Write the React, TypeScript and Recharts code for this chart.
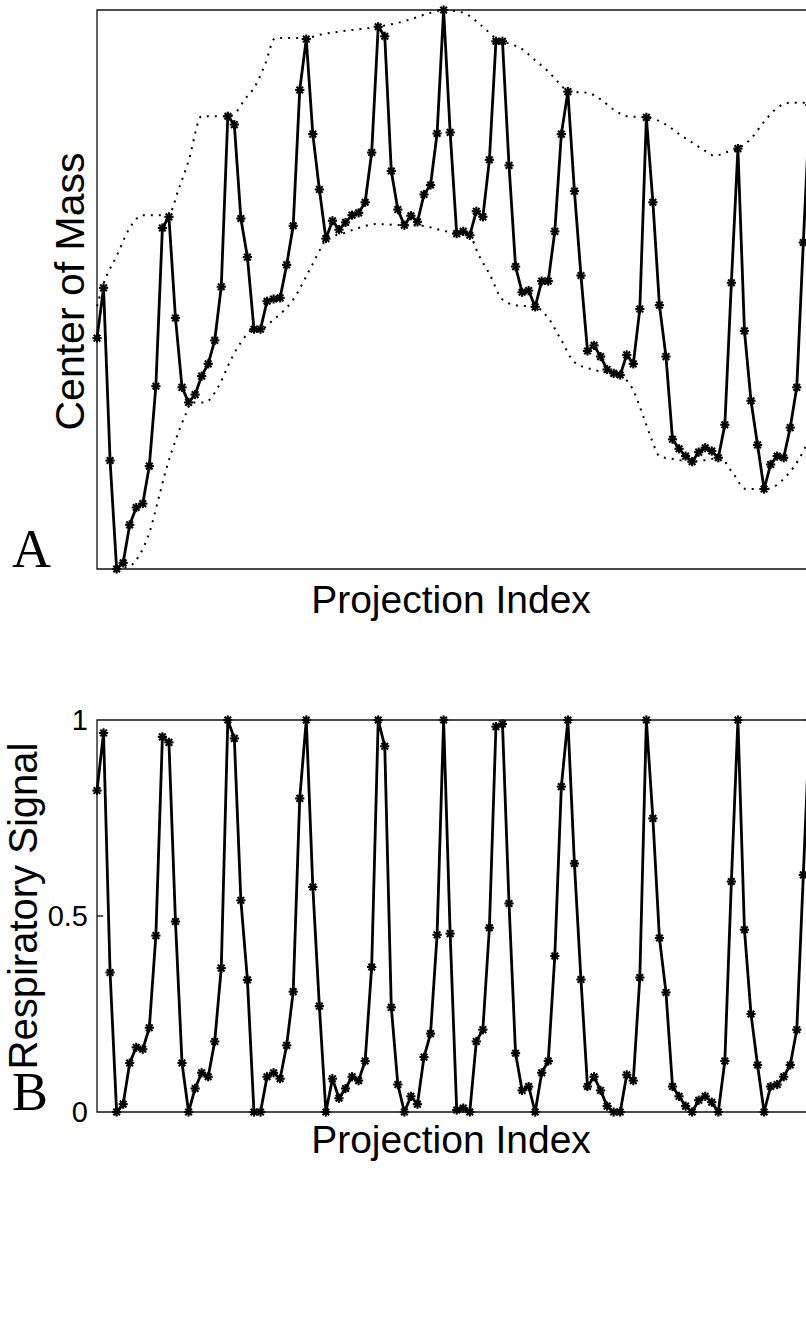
import { LineChart, Line, XAxis, YAxis, ReferenceArea, ReferenceLine } from 'recharts';

// projection index 0..109 (one sample every ~6.5px in the figure)
const comValues = [
  41.3, 50.3, 19.4, 0, 1.1, 7.9, 11, 11.7, 18.4, 32.7,
  61, 63, 44.9, 32.5, 29.8, 31.2, 34.5, 36.7, 40.9, 50.5,
  81, 79.5, 62.7, 55.8, 42.9, 42.9, 47.9, 48.3, 48.5, 54.4,
  61.4, 85.7, 94.8, 77.8, 67.9, 59.1, 62.3, 60.7, 62, 63.3,
  63.7, 65.6, 74.5, 97, 95.3, 71.2, 64.3, 61.5, 63.2, 62.1,
  67, 68.7, 77.9, 100, 78.1, 60, 60.4, 59.7, 64, 63,
  73.2, 94.4, 94.4, 72.2, 54.1, 49.5, 49.8, 46.9, 51.5, 51.5,
  60.4, 77.8, 85.4, 67.6, 52.5, 39, 40, 38, 35.7, 35,
  34.7, 38.3, 36.7, 46.5, 80.8, 65.6, 47.2, 38, 23.2, 21.5,
  20.2, 19.2, 20.9, 21.7, 21.1, 19.9, 25.8, 51.2, 75.2, 42.6,
  30.1, 22.2, 14.3, 18.7, 20.2, 19.9, 25.3, 32.5, 58.4, 83,
];

const respValues = [
  0.82, 0.967, 0.356, 0, 0.02, 0.125, 0.165, 0.16, 0.215, 0.45,
  0.957, 0.943, 0.486, 0.125, 0, 0.06, 0.1, 0.09, 0.18, 0.367,
  1, 0.953, 0.54, 0.337, 0, 0, 0.09, 0.1, 0.085, 0.17,
  0.307, 0.8, 1, 0.574, 0.27, 0, 0.085, 0.035, 0.06, 0.09,
  0.08, 0.13, 0.37, 1, 0.933, 0.267, 0.07, 0, 0.04, 0.02,
  0.14, 0.2, 0.452, 1, 0.455, 0.005, 0.01, 0, 0.18, 0.21,
  0.47, 0.983, 0.99, 0.532, 0.15, 0.055, 0.065, 0, 0.1, 0.13,
  0.398, 0.83, 1, 0.634, 0.338, 0.065, 0.09, 0.055, 0.015, 0,
  0, 0.095, 0.08, 0.343, 1, 0.749, 0.444, 0.305, 0.065, 0.04,
  0.015, 0, 0.03, 0.04, 0.025, 0, 0.13, 0.588, 1, 0.465,
  0.25, 0.12, 0, 0.065, 0.07, 0.09, 0.12, 0.21, 0.605, 1,
];

// dotted envelopes (sampled along the projection index)
const upperIdx = [
  0, 1, 3, 5, 7, 10.9, 12.5, 14, 16, 20,
  21.1, 22.6, 24.2, 25.7, 27.2, 28.3, 32, 34.2, 37.5, 43,
  47, 51, 53, 56, 59, 61.5, 63, 65, 67, 69,
  71, 72, 75, 77, 79, 81, 84, 87, 89, 91,
  93, 94.5, 96, 98, 100, 102, 104, 106, 110,
];
const upperValues = [
  47, 51, 56, 61, 63.3, 63.3, 68, 73, 81, 81,
  81.5, 84, 86.4, 90.3, 94.9, 95, 95, 95.6, 96.2, 97,
  98, 99.5, 100, 99.5, 97, 94.5, 94, 93, 91, 89,
  86.5, 85.4, 85.2, 84, 82.2, 81, 80.8, 79.5, 77.8, 76.3,
  74.8, 73.9, 74.5, 75.2, 77, 80, 82.5, 83.4, 83.4,
];
const lowerIdx = [
  3, 5, 6.5, 8, 9.5, 10.5, 12, 13.5, 14.5, 16.5,
  18.5, 20.5, 22, 24, 25, 27, 30, 32.5, 34.5, 35,
  37.5, 40, 42.5, 47, 49.7, 52.3, 55, 56.9, 58.4, 60,
  62, 64, 67, 69, 71, 73, 75.7, 79.8, 81.8, 83.6,
  84.8, 86, 88.5, 91, 93.6, 95.2, 97.2, 99.2, 102.3, 105.4,
  107.3, 108.5, 110,
];
const lowerValues = [
  0, 0.5, 2.5, 6.5, 13, 17.5, 23, 27.5, 29.8, 29.8,
  32.5, 37.5, 40.5, 42.9, 42.9, 44.6, 48.2, 53.5, 58, 59.1,
  60, 61, 61.7, 61.5, 61.4, 60.7, 60, 59.7, 56.1, 52.8,
  48.2, 47.2, 46.9, 44.9, 40.9, 37, 35.7, 34.7, 32.4, 27.1,
  23.2, 20.2, 19.6, 19.2, 19.6, 19.9, 17.2, 14.3, 14.3, 16.6,
  19.6, 22.2, 25,
];

const comData = comValues.map((v, i) => ({ i, v }));
const respData = respValues.map((v, i) => ({ i, v }));
const upperData = upperIdx.map((i, k) => ({ i, v: upperValues[k] }));
const lowerData = lowerIdx.map((i, k) => ({ i, v: lowerValues[k] }));

const SANS = '"Liberation Sans", Arial, Helvetica, sans-serif';
const SERIF = '"Liberation Serif", "Times New Roman", serif';
const X_MAX = 110;
const CHART_W = 830;
const MARGIN_RIGHT = CHART_W - 97 - X_MAX * 6.54;

// matlab-style '*' marker
const Star = (props: any) => {
  const { cx, cy, index } = props;
  if (cx == null || cy == null) return <g key={`s-${index}`} />;
  const r = 4.6;
  const d = r * 0.72;
  return (
    <g key={`s-${index}`} stroke="#000" strokeWidth={2.1}>
      <line x1={cx - r} y1={cy} x2={cx + r} y2={cy} />
      <line x1={cx} y1={cy - r} x2={cx} y2={cy + r} />
      <line x1={cx - d} y1={cy - d} x2={cx + d} y2={cy + d} />
      <line x1={cx - d} y1={cy + d} x2={cx + d} y2={cy - d} />
    </g>
  );
};

const xTitle = (dy: number) => (props: any) => {
  const { viewBox } = props;
  return (
    <text
      x={451}
      y={viewBox.y + dy}
      textAnchor="middle"
      fontFamily={SANS}
      fontSize={39}
      fill="#000"
    >
      Projection Index
    </text>
  );
};

const yTitle = (title: string, tx: number, size: number, shift: number, letter: string) => (props: any) => {
  const { viewBox } = props;
  const cy = viewBox.y + viewBox.height / 2 + shift;
  return (
    <g>
      <text
        x={tx}
        y={cy}
        transform={`rotate(-90, ${tx}, ${cy})`}
        textAnchor="middle"
        fontFamily={SANS}
        fontSize={size}
        fill="#000"
      >
        {title}
      </text>
      <text x={12} y={viewBox.y + viewBox.height - 2} fontFamily={SERIF} fontSize={54} fill="#000">
        {letter}
      </text>
    </g>
  );
};

export default function App() {
  return (
    <div
      style={{
        position: 'absolute',
        left: 0,
        top: 0,
        width: 806,
        height: 1332,
        overflow: 'hidden',
        background: '#fff',
      }}
    >
      <div style={{ position: 'absolute', left: 0, top: 0 }}>
        <LineChart width={CHART_W} height={640} margin={{ top: 10, right: MARGIN_RIGHT, left: 0, bottom: 0 }}>
          <XAxis
            type="number"
            dataKey="i"
            domain={[0, X_MAX]}
            height={71}
            tick={false}
            axisLine={false}
            tickLine={false}
            label={xTitle(44)}
          />
          <YAxis
            type="number"
            domain={[0, 100]}
            width={97}
            tick={false}
            axisLine={false}
            tickLine={false}
            label={yTitle('Center of Mass', 84, 41, 2, 'A')}
          />
          <ReferenceArea x1={0} x2={X_MAX} y1={0} y2={100} fill="none" stroke="#111" strokeWidth={1.3} />
          <Line
            data={upperData}
            dataKey="v"
            type="monotone"
            stroke="#000"
            strokeWidth={2}
            strokeDasharray="2 6"
            dot={false}
            activeDot={false}
            isAnimationActive={false}
          />
          <Line
            data={lowerData}
            dataKey="v"
            type="monotone"
            stroke="#000"
            strokeWidth={2}
            strokeDasharray="2 6"
            dot={false}
            activeDot={false}
            isAnimationActive={false}
          />
          <Line
            data={comData}
            dataKey="v"
            type="linear"
            stroke="#000"
            strokeWidth={2.8}
            dot={Star}
            activeDot={false}
            isAnimationActive={false}
          />
        </LineChart>
      </div>

      <div style={{ position: 'absolute', left: 0, top: 620 }}>
        <LineChart
          width={CHART_W}
          height={560}
          data={respData}
          margin={{ top: 100, right: MARGIN_RIGHT, left: 0, bottom: 0 }}
        >
          <XAxis
            type="number"
            dataKey="i"
            domain={[0, X_MAX]}
            height={68}
            tick={false}
            axisLine={false}
            tickLine={false}
            label={xTitle(41)}
          />
          <YAxis
            type="number"
            domain={[0, 1]}
            ticks={[0, 0.5, 1]}
            width={97}
            axisLine={false}
            tickLine={false}
            tickSize={0}
            tickMargin={9}
            tick={{ fontFamily: SANS, fontSize: 29, fill: '#000' }}
            label={yTitle('Respiratory Signal', 37, 40, -10, 'B')}
          />
          <ReferenceArea x1={0} x2={X_MAX} y1={0} y2={1} fill="none" stroke="#111" strokeWidth={1.3} />
          <ReferenceLine segment={[{ x: 0, y: 0.5 }, { x: 0.95, y: 0.5 }]} stroke="#000" strokeWidth={1.3} />
          <Line
            dataKey="v"
            type="linear"
            stroke="#000"
            strokeWidth={2.8}
            dot={Star}
            activeDot={false}
            isAnimationActive={false}
          />
        </LineChart>
      </div>
    </div>
  );
}
